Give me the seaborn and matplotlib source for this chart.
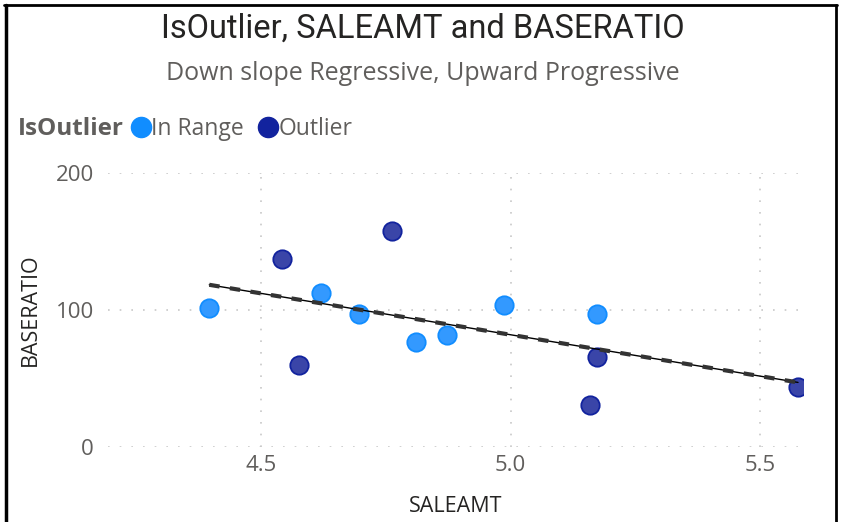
import numpy as np
import pandas as pd
import matplotlib
matplotlib.use('Agg')
import matplotlib.pyplot as plt
import seaborn as sns
from matplotlib.lines import Line2D

# values
in_range_saleamt = [4.396, 4.620, 4.696, 4.811, 4.873, 4.986, 5.173]
in_range_baseratio = [101.5, 112.4, 97.1, 76.6, 81.8, 103.6, 97.1]
outlier_saleamt = [4.542, 4.762, 4.576, 5.173, 5.159, 5.576]
outlier_baseratio = [137.2, 157.7, 59.9, 65.7, 30.7, 43.8]
categories = ['In Range', 'Outlier']
x_ticks = [4.5, 5.0, 5.5]
y_ticks = [0, 100, 200]

df = pd.DataFrame({
    'SALEAMT': in_range_saleamt + outlier_saleamt,
    'BASERATIO': in_range_baseratio + outlier_baseratio,
    'IsOutlier': [categories[0]] * len(in_range_saleamt) + [categories[1]] * len(outlier_saleamt),
})

fill_colors = {'In Range': '#3399FF', 'Outlier': '#3A45A8'}
edge_colors = {'In Range': '#118DFF', 'Outlier': '#12239E'}

sns.set_theme(style='white')
plt.rcParams['font.family'] = ['Open Sans', 'DejaVu Sans']

fig = plt.figure(figsize=(8.42, 5.22), dpi=100)
ax = fig.add_axes([108 / 842, 1 - 447 / 522, (803 - 108) / 842, (447 - 173) / 522])

for cat in categories:
    sub = df[df['IsOutlier'] == cat]
    sns.scatterplot(data=sub, x='SALEAMT', y='BASERATIO', ax=ax, s=175,
                    color=fill_colors[cat], edgecolor=edge_colors[cat],
                    linewidth=1.3, zorder=3, legend=False)

# trend line over all points (thin solid + dashed overlay)
sns.regplot(data=df, x='SALEAMT', y='BASERATIO', ax=ax, scatter=False, ci=None,
            truncate=True, line_kws={'color': '#000000', 'lw': 1.0, 'zorder': 4})
sns.regplot(data=df, x='SALEAMT', y='BASERATIO', ax=ax, scatter=False, ci=None,
            truncate=True, line_kws={'color': '#333333', 'lw': 3.0, 'ls': (0, (2.5, 2.5)), 'zorder': 4})

ax.set_xlim(4.193, 5.586)
ax.set_ylim(0, 200)
ax.set_xticks(x_ticks)
ax.set_xticklabels(['4.5', '5.0', '5.5'])
ax.set_yticks(y_ticks)
ax.set_yticklabels([str(v) for v in y_ticks])
ax.grid(True, color='#C8C8C8', linestyle=(0, (1, 6)), linewidth=1.2)
ax.set_axisbelow(True)
for sp in ax.spines.values():
    sp.set_visible(False)
ax.tick_params(axis='both', length=0, labelsize=16, labelcolor='#605E5C')
ax.tick_params(axis='y', pad=10)
ax.tick_params(axis='x', pad=6)
ax.set_xlabel('SALEAMT', fontsize=15.5, color='#252423', labelpad=14)
ax.set_ylabel('BASERATIO', fontsize=15.5, color='#252423', labelpad=10.5)

fig.text(423 / 842, 1 - 29 / 522, 'IsOutlier, SALEAMT and BASERATIO', ha='center', va='center',
         fontsize=23.5, color='#252423', family=['Roboto', 'DejaVu Sans'])
fig.text(423 / 842, 1 - 73 / 522, 'Down slope Regressive, Upward Progressive', ha='center', va='center',
         fontsize=18, color='#605E5C')
fig.text(18 / 842, 1 - 129 / 522, 'IsOutlier', ha='left', va='center',
         fontsize=17.5, fontweight='bold', color='#605E5C')

handles = [Line2D([], [], marker='o', ls='', markersize=14.5, markerfacecolor=c,
                  markeredgecolor=c) for c in ['#118DFF', '#12239E']]
leg = fig.legend(handles, categories, loc='center left', bbox_to_anchor=(126 / 842, 1 - 129 / 522),
                 ncol=2, frameon=False, fontsize=16.5, handletextpad=-0.2, columnspacing=0.4,
                 handlelength=1.3, borderaxespad=0, borderpad=0)
for t in leg.get_texts():
    t.set_color('#605E5C')

# card border
fig.add_artist(Line2D([5.5 / 842, 5.5 / 842], [0, 1 - 5 / 522], color='black', lw=2.5,
                      transform=fig.transFigure))
fig.add_artist(Line2D([4 / 842, 837 / 842], [1 - 5 / 522, 1 - 5 / 522], color='black', lw=2,
                      transform=fig.transFigure))
fig.add_artist(Line2D([835.5 / 842, 835.5 / 842], [0, 1 - 5 / 522], color='black', lw=2,
                      transform=fig.transFigure))

fig.savefig('out.png', dpi=100)
